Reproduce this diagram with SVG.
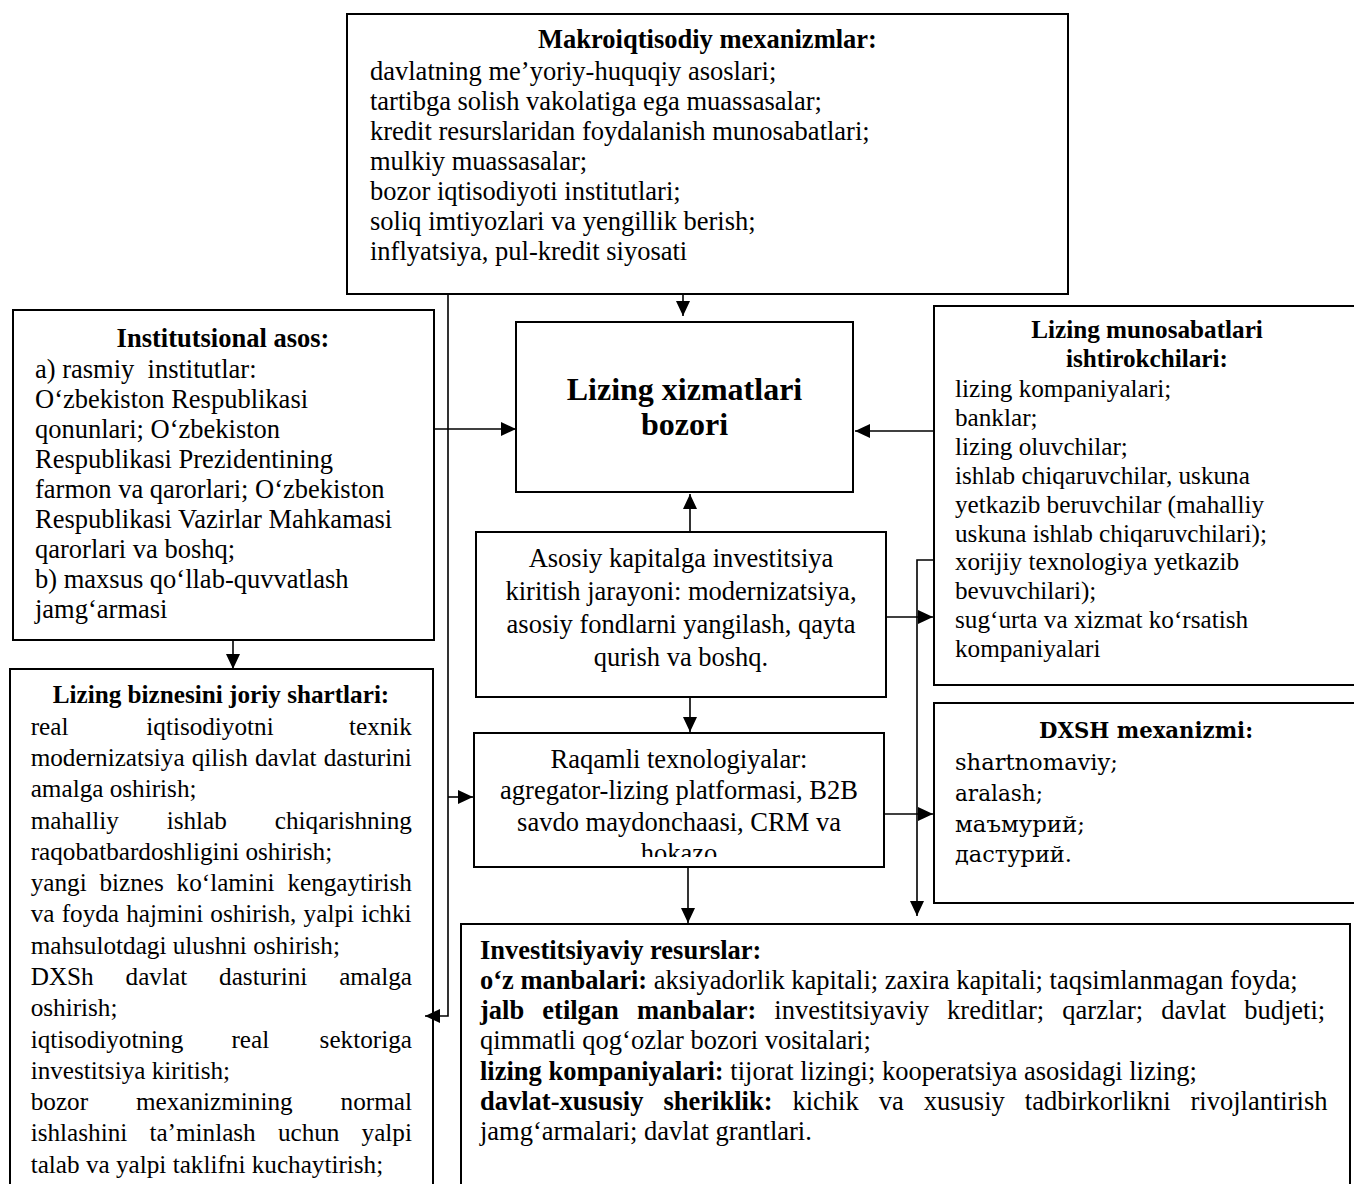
<svg xmlns="http://www.w3.org/2000/svg" width="1354" height="1184" viewBox="0 0 1354 1184">
<style>
.box{fill:#fff;stroke:#000;stroke-width:2}
.ln{fill:none;stroke:#000;stroke-width:1.6}
text{font-family:"Liberation Serif","Times New Roman",serif;fill:#000}
.t{font-size:26.5px}
.s{font-size:25.2px}
.b{font-weight:bold}
.c{text-anchor:middle}
.d{font-family:"DejaVu Serif","Liberation Serif",serif;font-size:22px}
</style>
<defs>
<marker id="ah" markerUnits="userSpaceOnUse" markerWidth="16" markerHeight="14" refX="15" refY="7" orient="auto">
<path d="M0,0 L15,7 L0,14 z" fill="#000"/>
</marker>
<clipPath id="clipR"><rect x="474" y="733" width="410" height="124"/></clipPath>
</defs>
<rect width="1354" height="1184" fill="#fff"/>

<g id="makro">
<rect class="box" x="347" y="14" width="721" height="280"/>
<text class="t b c" x="707.5" y="48">Makroiqtisodiy mexanizmlar:</text>
<text class="t" x="370" y="80">davlatning me’yoriy-huquqiy asoslari;</text>
<text class="t" x="370" y="110">tartibga solish vakolatiga ega muassasalar;</text>
<text class="t" x="370" y="140">kredit resurslaridan foydalanish munosabatlari;</text>
<text class="t" x="370" y="170">mulkiy muassasalar;</text>
<text class="t" x="370" y="200">bozor iqtisodiyoti institutlari;</text>
<text class="t" x="370" y="230">soliq imtiyozlari va yengillik berish;</text>
<text class="t" x="370" y="260">inflyatsiya, pul-kredit siyosati</text>
</g>

<g id="institutsional">
<rect class="box" x="13" y="310" width="421" height="330"/>
<text class="t b c" x="223" y="347">Institutsional asos:</text>
<text class="t" x="35" y="378" xml:space="preserve">a) rasmiy  institutlar:</text>
<text class="t" x="35" y="408">O‘zbekiston Respublikasi</text>
<text class="t" x="35" y="438">qonunlari; O‘zbekiston</text>
<text class="t" x="35" y="468">Respublikasi Prezidentining</text>
<text class="t" x="35" y="498">farmon va qarorlari; O‘zbekiston</text>
<text class="t" x="35" y="528">Respublikasi Vazirlar Mahkamasi</text>
<text class="t" x="35" y="558">qarorlari va boshq;</text>
<text class="t" x="35" y="588">b) maxsus qo‘llab-quvvatlash</text>
<text class="t" x="35" y="618">jamg‘armasi</text>
</g>

<g id="bozor">
<rect class="box" x="516" y="322" width="337" height="170"/>
<text class="b c" style="font-size:32px" x="684.5" y="400">Lizing xizmatlari</text>
<text class="b c" style="font-size:32px" x="684.5" y="435">bozori</text>
</g>

<g id="ishtirokchilar">
<rect class="box" x="934" y="306" width="440" height="379"/>
<text class="s b c" x="1147" y="338">Lizing munosabatlari</text>
<text class="s b c" x="1147" y="367">ishtirokchilari:</text>
<text class="s" x="955" y="397">lizing kompaniyalari;</text>
<text class="s" x="955" y="426">banklar;</text>
<text class="s" x="955" y="455">lizing oluvchilar;</text>
<text class="s" x="955" y="484">ishlab chiqaruvchilar, uskuna</text>
<text class="s" x="955" y="513">yetkazib beruvchilar (mahalliy</text>
<text class="s" x="955" y="541.5">uskuna ishlab chiqaruvchilari);</text>
<text class="s" x="955" y="570">xorijiy texnologiya yetkazib</text>
<text class="s" x="955" y="599">bevuvchilari);</text>
<text class="s" x="955" y="628">sug‘urta va xizmat ko‘rsatish</text>
<text class="s" x="955" y="657">kompaniyalari</text>
</g>

<g id="joriy-shartlar">
<rect class="box" x="10" y="669" width="423" height="540"/>
<text class="s b c" x="221" y="703">Lizing biznesini joriy shartlari:</text>
<text class="s" y="735"><tspan x="30.7">real</tspan><tspan x="146.3">iqtisodiyotni</tspan><tspan x="349">texnik</tspan></text>
<text class="s" x="30.7" y="766" word-spacing="0.9">modernizatsiya qilish davlat dasturini</text>
<text class="s" x="30.7" y="797">amalga oshirish;</text>
<text class="s" y="829"><tspan x="30.7">mahalliy</tspan><tspan x="166.7">ishlab</tspan><tspan x="274.8">chiqarishning</tspan></text>
<text class="s" x="30.7" y="860">raqobatbardoshligini oshirish;</text>
<text class="s" y="891"><tspan x="30.7">yangi</tspan><tspan x="99.5">biznes</tspan><tspan x="176.6">ko‘lamini</tspan><tspan x="287.4">kengaytirish</tspan></text>
<text class="s" x="30.7" y="922" word-spacing="0.9">va foyda hajmini oshirish, yalpi ichki</text>
<text class="s" x="30.7" y="954">mahsulotdagi ulushni oshirish;</text>
<text class="s" y="985"><tspan x="30.7">DXSh</tspan><tspan x="125.6">davlat</tspan><tspan x="219.1">dasturini</tspan><tspan x="339.2">amalga</tspan></text>
<text class="s" x="30.7" y="1016">oshirish;</text>
<text class="s" y="1048"><tspan x="30.7">iqtisodiyotning</tspan><tspan x="231.4">real</tspan><tspan x="319.6">sektoriga</tspan></text>
<text class="s" x="30.7" y="1079">investitsiya kiritish;</text>
<text class="s" y="1110"><tspan x="30.7">bozor</tspan><tspan x="135.9">mexanizmining</tspan><tspan x="340.6">normal</tspan></text>
<text class="s" y="1141"><tspan x="30.7">ishlashini</tspan><tspan x="149.4">ta’minlash</tspan><tspan x="277.9">uchun</tspan><tspan x="361.6">yalpi</tspan></text>
<text class="s" x="30.7" y="1173">talab va yalpi taklifni kuchaytirish;</text>
</g>

<g id="asosiy-kapital">
<rect class="box" x="476" y="532" width="410" height="165"/>
<text class="t c" x="681" y="567">Asosiy kapitalga investitsiya</text>
<text class="t c" x="681" y="600">kiritish jarayoni: modernizatsiya,</text>
<text class="t c" x="681" y="633">asosiy fondlarni yangilash, qayta</text>
<text class="t c" x="681" y="666">qurish va boshq.</text>
</g>

<g id="raqamli">
<rect class="box" x="474" y="733" width="410" height="134"/>
<g clip-path="url(#clipR)">
<text class="t c" x="679" y="768">Raqamli texnologiyalar:</text>
<text class="t c" x="679" y="799">agregator-lizing platformasi, B2B</text>
<text class="t c" x="679" y="831">savdo maydonchaasi, CRM va</text>
<text class="t c" x="679" y="862">hokazo</text>
</g>
</g>

<g id="dxsh">
<rect class="box" x="934" y="703" width="440" height="200"/>
<text class="d b c" x="1146" y="738" textLength="214" lengthAdjust="spacingAndGlyphs">DXSH mexanizmi:</text>
<text class="d" x="955" y="770" textLength="163" lengthAdjust="spacingAndGlyphs">shartnomaviy;</text>
<text class="d" x="955" y="801" textLength="88" lengthAdjust="spacingAndGlyphs">aralash;</text>
<text class="d" x="955" y="832" textLength="130" lengthAdjust="spacingAndGlyphs">маъмурий;</text>
<text class="d" x="955" y="862" textLength="117" lengthAdjust="spacingAndGlyphs">дастурий.</text>
</g>

<g id="resurslar">
<rect class="box" x="461" y="924" width="889" height="300"/>
<text class="t b" x="480" y="959">Investitsiyaviy resurslar:</text>
<text class="t" x="480" y="989"><tspan class="b">o‘z manbalari:</tspan> aksiyadorlik kapitali; zaxira kapitali; taqsimlanmagan foyda;</text>
<text class="t" x="480" y="1019" word-spacing="11.5"><tspan class="b">jalb etilgan manbalar:</tspan> investitsiyaviy kreditlar; qarzlar; davlat budjeti;</text>
<text class="t" x="480" y="1049">qimmatli qog‘ozlar bozori vositalari;</text>
<text class="t" x="480" y="1080"><tspan class="b">lizing kompaniyalari:</tspan> tijorat lizingi; kooperatsiya asosidagi lizing;</text>
<text class="t" x="480" y="1110" word-spacing="13.4"><tspan class="b">davlat-xususiy sheriklik:</tspan> kichik va xususiy tadbirkorlikni rivojlantirish</text>
<text class="t" x="480" y="1140">jamg‘armalari; davlat grantlari.</text>
</g>

<g id="connectors">
<path class="ln" d="M683,294 V316" marker-end="url(#ah)"/>
<path class="ln" d="M434,429 H516" marker-end="url(#ah)"/>
<path class="ln" d="M934,431 H855" marker-end="url(#ah)"/>
<path class="ln" d="M690,532 V494" marker-end="url(#ah)"/>
<path class="ln" d="M233,640 V669" marker-end="url(#ah)"/>
<path class="ln" d="M448,294 V1016 H425" marker-end="url(#ah)"/>
<path class="ln" d="M448,797 H473" marker-end="url(#ah)"/>
<path class="ln" d="M690,697 V732" marker-end="url(#ah)"/>
<path class="ln" d="M688,867 V923" marker-end="url(#ah)"/>
<path class="ln" d="M886,617 H933" marker-end="url(#ah)"/>
<path class="ln" d="M884,814 H933" marker-end="url(#ah)"/>
<path class="ln" d="M934,560 H917 V916" marker-end="url(#ah)"/>
</g>
</svg>
